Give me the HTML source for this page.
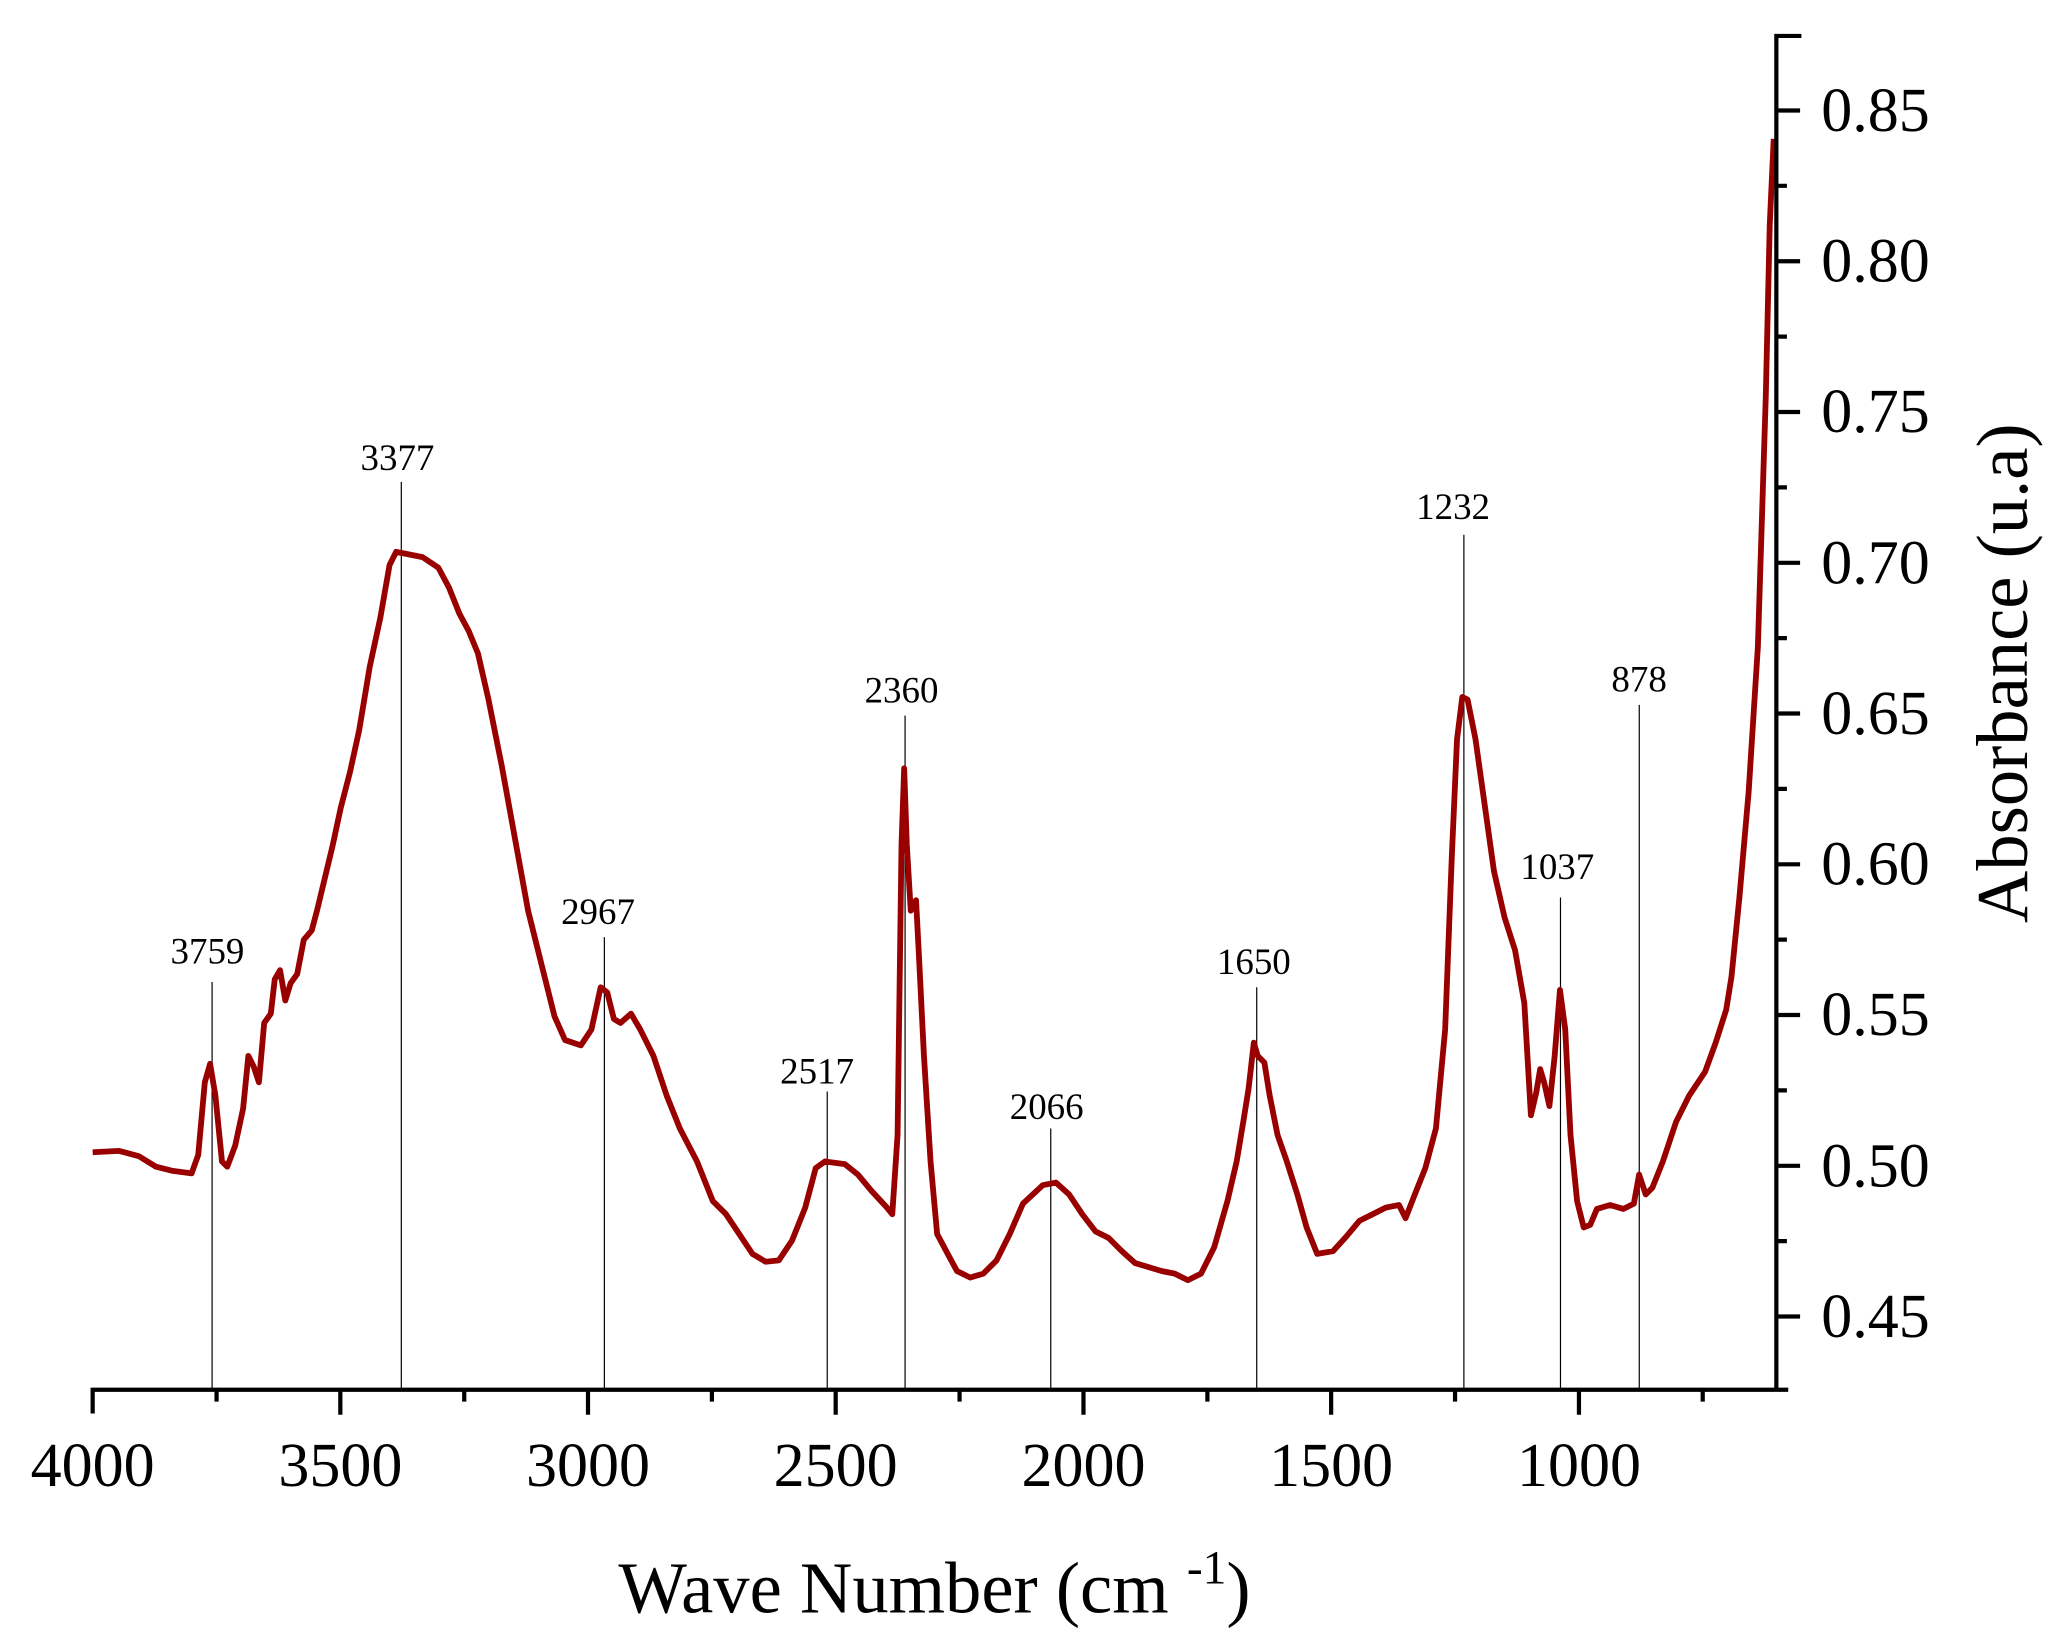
<!DOCTYPE html>
<html><head><meta charset="utf-8"><style>html,body{margin:0;padding:0;background:#fff}svg{display:block}</style></head>
<body>
<svg width="2069" height="1646" viewBox="0 0 2069 1646" xmlns="http://www.w3.org/2000/svg">
<g transform="translate(0.3,0.3) scale(1.3195)" font-family="Liberation Serif, serif" fill="#000">
<g stroke="#000" stroke-width="0.9">
<line x1="160.5" y1="744" x2="160.5" y2="1052"/>
<line x1="303.9" y1="365" x2="303.9" y2="1052"/>
<line x1="457.8" y1="710" x2="457.8" y2="1052"/>
<line x1="626.7" y1="827" x2="626.7" y2="1052"/>
<line x1="685.7" y1="542" x2="685.7" y2="1052"/>
<line x1="796.1" y1="855" x2="796.1" y2="1052"/>
<line x1="952.2" y1="748" x2="952.2" y2="1052"/>
<line x1="1109.2" y1="405" x2="1109.2" y2="1052"/>
<line x1="1182.4" y1="680" x2="1182.4" y2="1052"/>
<line x1="1242.1" y1="534" x2="1242.1" y2="1052"/>
</g>
<g font-size="28" text-anchor="middle">
<text x="157" y="730">3759</text>
<text x="301" y="356">3377</text>
<text x="453" y="700">2967</text>
<text x="619" y="821">2517</text>
<text x="683" y="532">2360</text>
<text x="793" y="848">2066</text>
<text x="950" y="738">1650</text>
<text x="1101" y="393">1232</text>
<text x="1180" y="666">1037</text>
<text x="1242" y="524">878</text>
</g>
<polyline fill="none" stroke="#990000" stroke-width="4.4" stroke-linejoin="round" points="70,873 90,872 105,876 118,884 130,887 145,889 150,875 155,820 159,806 163,830 168,880 172,884 178,868 184,840 188,800 192,808 196,820 200,775 205,768 208,742 212,735 216,758 220,745 225,738 230,712 236,705 240,690 246,665 252,640 258,612 265,585 272,553 280,505 288,468 295,428 300,418 310,420 320,422 332,430 340,445 348,465 355,478 362,495 370,530 380,580 390,635 400,690 410,730 420,770 428,788 440,792 448,780 455,748 460,752 465,772 470,775 478,768 485,780 495,800 505,830 515,855 528,880 540,910 550,920 560,935 570,950 580,956 590,955 600,940 610,915 618,885 625,880 640,882 650,890 660,902 672,915 676,920 680,860 683,640 685,582 687,640 690,690 694,682 696,720 700,800 705,880 710,935 718,950 725,963 735,968 745,965 755,955 765,935 775,912 790,898 800,896 810,905 820,920 830,933 840,938 850,948 860,957 870,960 880,963 890,965 900,970 910,965 920,945 930,910 937,880 942,850 946,825 950,790 953,800 958,805 962,830 968,860 975,880 983,905 990,930 998,950 1010,948 1020,937 1030,925 1040,920 1050,915 1060,913 1065,923 1072,905 1080,885 1088,855 1095,780 1100,650 1104,560 1108,528 1112,530 1118,560 1125,610 1132,660 1140,695 1148,720 1155,760 1160,845 1164,828 1167,810 1170,820 1174,838 1178,800 1182,750 1186,780 1190,860 1195,910 1200,930 1205,928 1210,916 1220,913 1230,916 1238,912 1242,890 1247,905 1252,900 1260,880 1270,850 1280,830 1292,812 1300,790 1308,765 1312,740 1318,680 1325,600 1332,490 1338,300 1341,170 1344,105"/>
<g stroke="#000" stroke-width="3.2" fill="none">
<path d="M70,1071 V1053 H1355"/>
<path d="M1365,27 H1346 V1053"/>
<path d="M257.7,1053 v19 M445.4,1053 v19 M633.1,1053 v19 M820.9,1053 v19 M1008.6,1053 v19 M1196.4,1053 v19"/>
<path d="M163.9,1053 v9 M351.6,1053 v9 M539.3,1053 v9 M727,1053 v9 M914.8,1053 v9 M1102.5,1053 v9 M1290.2,1053 v9"/>
<path d="M1346,83.5 h18 M1346,197.8 h18 M1346,312 h18 M1346,426.3 h18 M1346,540.5 h18 M1346,654.8 h18 M1346,769 h18 M1346,883.3 h18 M1346,997.5 h18"/>
<path d="M1346,140.6 h8 M1346,254.9 h8 M1346,369.1 h8 M1346,483.4 h8 M1346,597.6 h8 M1346,711.9 h8 M1346,826.1 h8 M1346,940.4 h8"/>
</g>
<g font-size="47" text-anchor="middle">
<text x="70" y="1126">4000</text>
<text x="257.7" y="1126">3500</text>
<text x="445.4" y="1126">3000</text>
<text x="633.1" y="1126">2500</text>
<text x="820.9" y="1126">2000</text>
<text x="1008.6" y="1126">1500</text>
<text x="1196.4" y="1126">1000</text>
</g>
<g font-size="47">
<text x="1380" y="99">0.85</text>
<text x="1380" y="213">0.80</text>
<text x="1380" y="327">0.75</text>
<text x="1380" y="442">0.70</text>
<text x="1380" y="556">0.65</text>
<text x="1380" y="670">0.60</text>
<text x="1380" y="784">0.55</text>
<text x="1380" y="899">0.50</text>
<text x="1380" y="1013">0.45</text>
</g>
<text x="708" y="1222" font-size="55" text-anchor="middle">Wave Number (cm <tspan font-size="36" dy="-22">-1</tspan><tspan dy="22">)</tspan></text>
<text transform="translate(1536,510) rotate(-90)" font-size="55" text-anchor="middle">Absorbance (u.a)</text>
</g>
</svg>
</body></html>
